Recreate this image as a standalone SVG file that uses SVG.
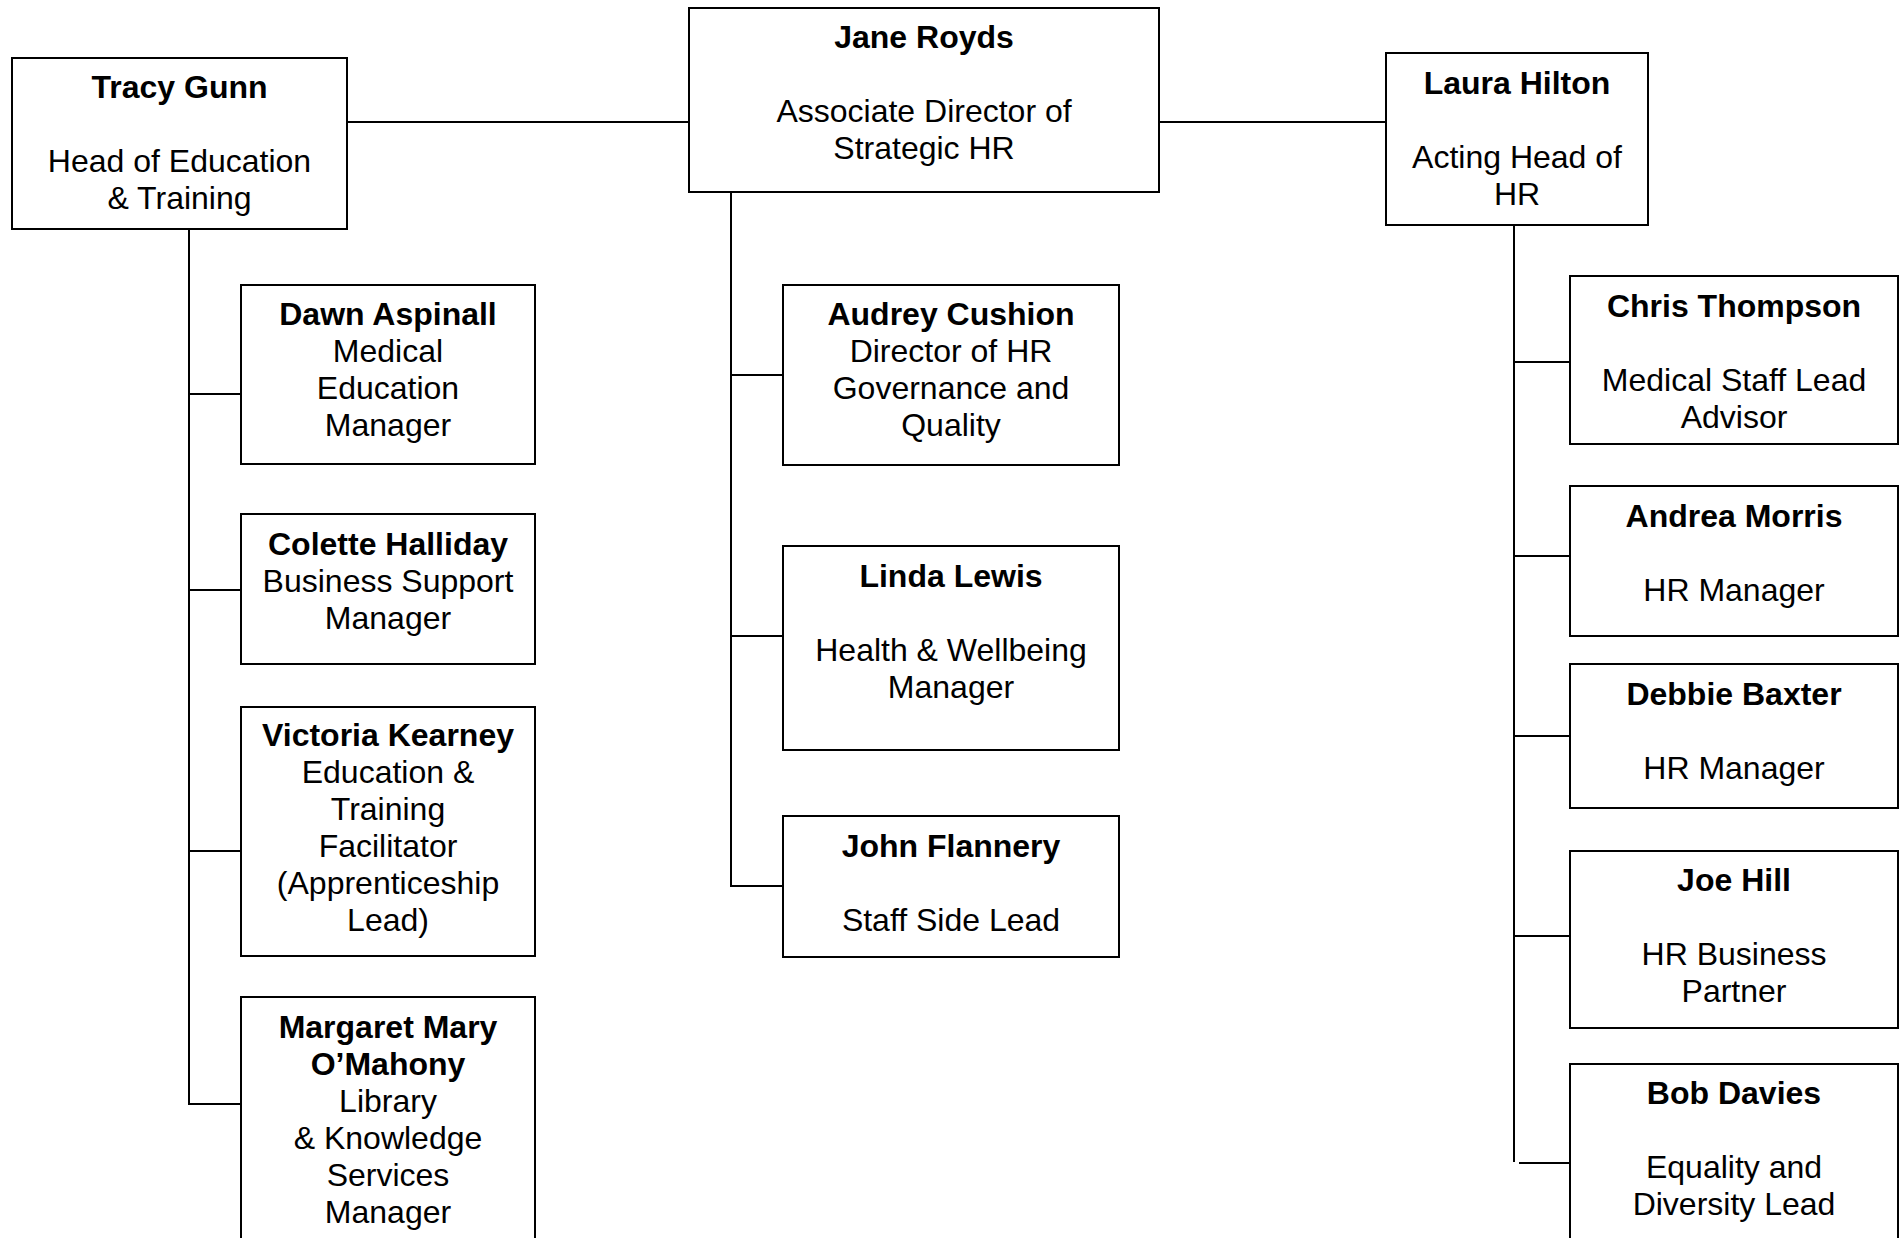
<svg xmlns="http://www.w3.org/2000/svg" width="1901" height="1238" viewBox="0 0 1901 1238">
<style>
  .box { fill: #ffffff; stroke: #000000; stroke-width: 2; }
  .ln { fill: none; stroke: #000000; stroke-width: 2; }
  text { font-family: "Liberation Sans", Arial, sans-serif; font-size: 32px; fill: #000000; text-anchor: middle; }
  .nm { font-weight: bold; }
</style>
<rect x="0" y="0" width="1901" height="1238" fill="#ffffff"/>
<g id="connectors">
  <line class="ln" x1="347" y1="122" x2="689" y2="122"/>
  <line class="ln" x1="1159" y1="122" x2="1386" y2="122"/>
  <line class="ln" x1="189" y1="229" x2="189" y2="1105"/>
  <line class="ln" x1="188" y1="394" x2="241" y2="394"/>
  <line class="ln" x1="188" y1="590" x2="241" y2="590"/>
  <line class="ln" x1="188" y1="851" x2="241" y2="851"/>
  <line class="ln" x1="188" y1="1104" x2="241" y2="1104"/>
  <line class="ln" x1="731" y1="192" x2="731" y2="887"/>
  <line class="ln" x1="730" y1="375" x2="783" y2="375"/>
  <line class="ln" x1="730" y1="636" x2="783" y2="636"/>
  <line class="ln" x1="730" y1="886" x2="783" y2="886"/>
  <line class="ln" x1="1514" y1="225" x2="1514" y2="1162"/>
  <line class="ln" x1="1513" y1="362" x2="1570" y2="362"/>
  <line class="ln" x1="1513" y1="556" x2="1570" y2="556"/>
  <line class="ln" x1="1513" y1="736" x2="1570" y2="736"/>
  <line class="ln" x1="1513" y1="936" x2="1570" y2="936"/>
  <line class="ln" x1="1519" y1="1163" x2="1570" y2="1163"/>
</g>
<g id="tracy">
  <rect class="box" x="12" y="58" width="335" height="171"/>
  <text class="nm" x="179.5" y="98">Tracy Gunn</text>
  <text x="179.5" y="172">Head of Education</text>
  <text x="179.5" y="209">&amp; Training</text>
</g>
<g id="jane">
  <rect class="box" x="689" y="8" width="470" height="184"/>
  <text class="nm" x="924" y="48">Jane Royds</text>
  <text x="924" y="122">Associate Director of</text>
  <text x="924" y="159">Strategic HR</text>
</g>
<g id="laura">
  <rect class="box" x="1386" y="53" width="262" height="172"/>
  <text class="nm" x="1517" y="94">Laura Hilton</text>
  <text x="1517" y="168">Acting Head of</text>
  <text x="1517" y="205">HR</text>
</g>
<g id="dawn">
  <rect class="box" x="241" y="285" width="294" height="179"/>
  <text class="nm" x="388" y="325">Dawn Aspinall</text>
  <text x="388" y="362">Medical</text>
  <text x="388" y="399">Education</text>
  <text x="388" y="436">Manager</text>
</g>
<g id="colette">
  <rect class="box" x="241" y="514" width="294" height="150"/>
  <text class="nm" x="388" y="555">Colette Halliday</text>
  <text x="388" y="592">Business Support</text>
  <text x="388" y="629">Manager</text>
</g>
<g id="victoria">
  <rect class="box" x="241" y="707" width="294" height="249"/>
  <text class="nm" x="388" y="746">Victoria Kearney</text>
  <text x="388" y="783">Education &amp;</text>
  <text x="388" y="820">Training</text>
  <text x="388" y="857">Facilitator</text>
  <text x="388" y="894">(Apprenticeship</text>
  <text x="388" y="931">Lead)</text>
</g>
<g id="margaret">
  <rect class="box" x="241" y="997" width="294" height="260"/>
  <text class="nm" x="388" y="1038">Margaret Mary</text>
  <text class="nm" x="388" y="1075">O’Mahony</text>
  <text x="388" y="1112">Library</text>
  <text x="388" y="1149">&amp; Knowledge</text>
  <text x="388" y="1186">Services</text>
  <text x="388" y="1223">Manager</text>
</g>
<g id="audrey">
  <rect class="box" x="783" y="285" width="336" height="180"/>
  <text class="nm" x="951" y="325">Audrey Cushion</text>
  <text x="951" y="362">Director of HR</text>
  <text x="951" y="399">Governance and</text>
  <text x="951" y="436">Quality</text>
</g>
<g id="linda">
  <rect class="box" x="783" y="546" width="336" height="204"/>
  <text class="nm" x="951" y="587">Linda Lewis</text>
  <text x="951" y="661">Health &amp; Wellbeing</text>
  <text x="951" y="698">Manager</text>
</g>
<g id="john">
  <rect class="box" x="783" y="816" width="336" height="141"/>
  <text class="nm" x="951" y="857">John Flannery</text>
  <text x="951" y="931">Staff Side Lead</text>
</g>
<g id="chris">
  <rect class="box" x="1570" y="276" width="328" height="168"/>
  <text class="nm" x="1734" y="317">Chris Thompson</text>
  <text x="1734" y="391">Medical Staff Lead</text>
  <text x="1734" y="428">Advisor</text>
</g>
<g id="andrea">
  <rect class="box" x="1570" y="486" width="328" height="150"/>
  <text class="nm" x="1734" y="527">Andrea Morris</text>
  <text x="1734" y="601">HR Manager</text>
</g>
<g id="debbie">
  <rect class="box" x="1570" y="664" width="328" height="144"/>
  <text class="nm" x="1734" y="705">Debbie Baxter</text>
  <text x="1734" y="779">HR Manager</text>
</g>
<g id="joe">
  <rect class="box" x="1570" y="851" width="328" height="177"/>
  <text class="nm" x="1734" y="891">Joe Hill</text>
  <text x="1734" y="965">HR Business</text>
  <text x="1734" y="1002">Partner</text>
</g>
<g id="bob">
  <rect class="box" x="1570" y="1064" width="328" height="190"/>
  <text class="nm" x="1734" y="1104">Bob Davies</text>
  <text x="1734" y="1178">Equality and</text>
  <text x="1734" y="1215">Diversity Lead</text>
</g>
</svg>
